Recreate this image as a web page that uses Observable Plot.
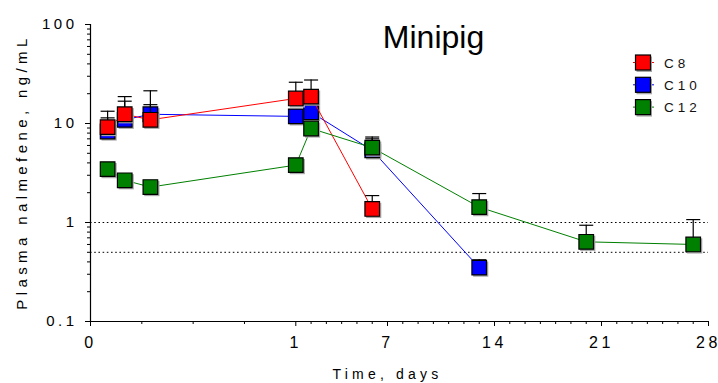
<!DOCTYPE html>
<html><head><meta charset="utf-8">
<script src="https://cdn.jsdelivr.net/npm/d3@7"></script>
<script src="https://cdn.jsdelivr.net/npm/@observablehq/plot@0.6"></script>
<style>
body{margin:0;background:#fff;}
#chart svg{display:block;}
g[aria-label="y-axis tick label"] text{letter-spacing:3.5px;}
g[aria-label="x-axis tick label"] text{letter-spacing:3.5px;}
</style>
</head><body><div id="chart"></div>
<script>
// ---- data (time in days; early points at 2 h, 4 h, 7 h) ----
const seriesNames = ["C8", "C10", "C12"];
const seriesColors = ["#ff0000", "#0000ff", "#008000"];

const c8Time = [2/24, 4/24, 7/24, 1, 2, 6];
const c8Mean = [9.2, 12.4, 10.9, 17.9, 18.7, 1.37];
const c8Sd   = [4.1, 6.3, 4.6, 8.2, 8.8, 0.5];

const c10Time = [2/24, 4/24, 7/24, 1, 2, 6, 13];
const c10Mean = [8.3, 10.9, 12.4, 11.8, 13.0, 5.35, 0.35];
const c10Sd   = [3.1, 5.9, 9.0, 2.0, 2.5, 1.65, 0.07];

const c12Time = [2/24, 4/24, 7/24, 1, 2, 6, 13, 20, 27];
const c12Mean = [3.46, 2.67, 2.28, 3.8, 8.9, 5.7, 1.43, 0.638, 0.60];
const c12Sd   = [0.3, 0.25, 0.2, 0.4, 1.0, 1.6, 0.53, 0.30, 0.47];

const xTickValues = [0, 1, 7, 14, 21, 28];
const yTickValues = [0.1, 1, 10, 100];
const refLines = [1, 0.5];
const titleText = ["Minipig"];
const xLabel = ["Time, days"];
const yLabel = ["Plasma nalmefene, ng/mL"];

// ---- build tables ----
function rows(t, m, sd, name) { return t.map((d, i) => ({t: d, m: m[i], sd: sd[i], up: m[i] + sd[i], name})); }
const tables = {
  C8: rows(c8Time, c8Mean, c8Sd, "C8"),
  C10: rows(c10Time, c10Mean, c10Sd, "C10"),
  C12: rows(c12Time, c12Mean, c12Sd, "C12")
};
const colorOf = Object.fromEntries(seriesNames.map((n, i) => [n, seriesColors[i]]));

// minor ticks
const xMinor = [0.25, 0.5, 0.75];
for (let d = 2; d < 28; d++) if (!xTickValues.includes(d)) xMinor.push(d);
const yMinor = [];
for (const dec of [0.1, 1, 10]) for (let k = 2; k <= 9; k++) yMinor.push(+(k * dec).toPrecision(3));

// custom symbols
const squareSym = {draw(ctx, size) { const h = Math.sqrt(size / Math.PI); ctx.moveTo(-h, -h); ctx.lineTo(h, -h); ctx.lineTo(h, h); ctx.lineTo(-h, h); ctx.closePath(); }};
const capSym = {draw(ctx, size) { const h = Math.sqrt(size / Math.PI); ctx.moveTo(-h, 0); ctx.lineTo(h, 0); }};

function seriesMarks(name) {
  const data = tables[name], c = colorOf[name];
  return [
    Plot.line(data, {x: "t", y: "m", stroke: c, strokeWidth: 1}),
    Plot.ruleX(data, {x: "t", y1: "m", y2: "up", stroke: "black", strokeWidth: 1.2}),
    Plot.dot(data, {x: "t", y: "up", symbol: capSym, r: 7, stroke: "black", strokeWidth: 1.2, fill: "none"}),
    Plot.dot(data, {x: "t", y: "m", symbol: squareSym, r: 7.6, fill: "#a8a8a8", stroke: "none", dx: 1.5, dy: 1.5}),
    Plot.dot(data, {x: "t", y: "m", symbol: squareSym, r: 7.3, fill: c, stroke: "black", strokeWidth: 1.2})
  ];
}

const W = 718, H = 383;
const plot = Plot.plot({
  width: W, height: H,
  marginLeft: 90, marginRight: 10, marginTop: 24, marginBottom: 62,
  style: {fontFamily: "'Liberation Sans', Arial, sans-serif", fontSize: "15px", background: "white", color: "black", overflow: "visible"},
  x: {type: "linear", domain: [0, 1, 28], range: [90, 295.3, 708]},
  y: {type: "log", domain: [0.1, 100]},
  marks: [
    Plot.ruleY(refLines, {stroke: "black", strokeWidth: 1, strokeDasharray: "1.6,2.6"}),
    Plot.axisY(yMinor, {tickSize: 3, tickFormat: () => "", label: null}),
    Plot.axisY(yTickValues, {tickSize: 5, tickPadding: 8, tickFormat: d => String(d), fontSize: 15, label: null}),
    Plot.axisX(xMinor, {tickSize: 3, tickFormat: () => "", label: null}),
    Plot.axisX(xTickValues, {tickSize: 5, tickPadding: 10, tickFormat: d => String(d), fontSize: 16, label: null}),
    Plot.ruleX([0], {stroke: "black", strokeWidth: 1.2}),
    Plot.ruleY([0.1], {stroke: "black", strokeWidth: 1.2}),
    ...seriesMarks("C10"),
    ...seriesMarks("C8"),
    ...seriesMarks("C12"),
    Plot.text(titleText, {frameAnchor: "top", dx: 34, dy: 23, lineAnchor: "bottom", fontSize: 32, fill: "black"}),
    Plot.text(xLabel, {frameAnchor: "bottom", dx: -12, dy: 57, lineAnchor: "bottom", fontSize: 14, fill: "black"}),
    Plot.text(yLabel, {frameAnchor: "left", textAnchor: "middle", dx: -68, dy: -1, rotate: -90, fontSize: 15, fill: "black"})
  ]
});
document.getElementById("chart").appendChild(plot);

const svg = d3.select(plot);
// letter spacing on axis titles (GraphPad-style wide tracking)
svg.selectAll("text").each(function() {
  const t = this.textContent;
  if (t === xLabel[0]) this.style.letterSpacing = "4.2px";
  if (t === yLabel[0]) this.style.letterSpacing = "4.4px";
});

// legend
const lg = svg.append("g").attr("class", "legend").attr("text-anchor", "start");
seriesNames.forEach((n, i) => {
  const y = 62.5 + i * 22.3;
  lg.append("line").attr("x1", 633).attr("x2", 654).attr("y1", y).attr("y2", y).attr("stroke", seriesColors[i]).attr("stroke-width", 1);
  lg.append("rect").attr("x", 636.5).attr("y", y - 7.5 + 1.5).attr("width", 15.5).attr("height", 15.5).attr("fill", "#a8a8a8");
  lg.append("rect").attr("x", 635.5).attr("y", y - 7.5).attr("width", 15).attr("height", 15).attr("fill", seriesColors[i]).attr("stroke", "black").attr("stroke-width", 1.2);
  lg.append("text").attr("x", 664).attr("y", y + 5).attr("font-size", 13.5).attr("fill", "#111").style("letter-spacing", "4px").attr("text-anchor", "start").text(n);
});
</script>
</body></html>
